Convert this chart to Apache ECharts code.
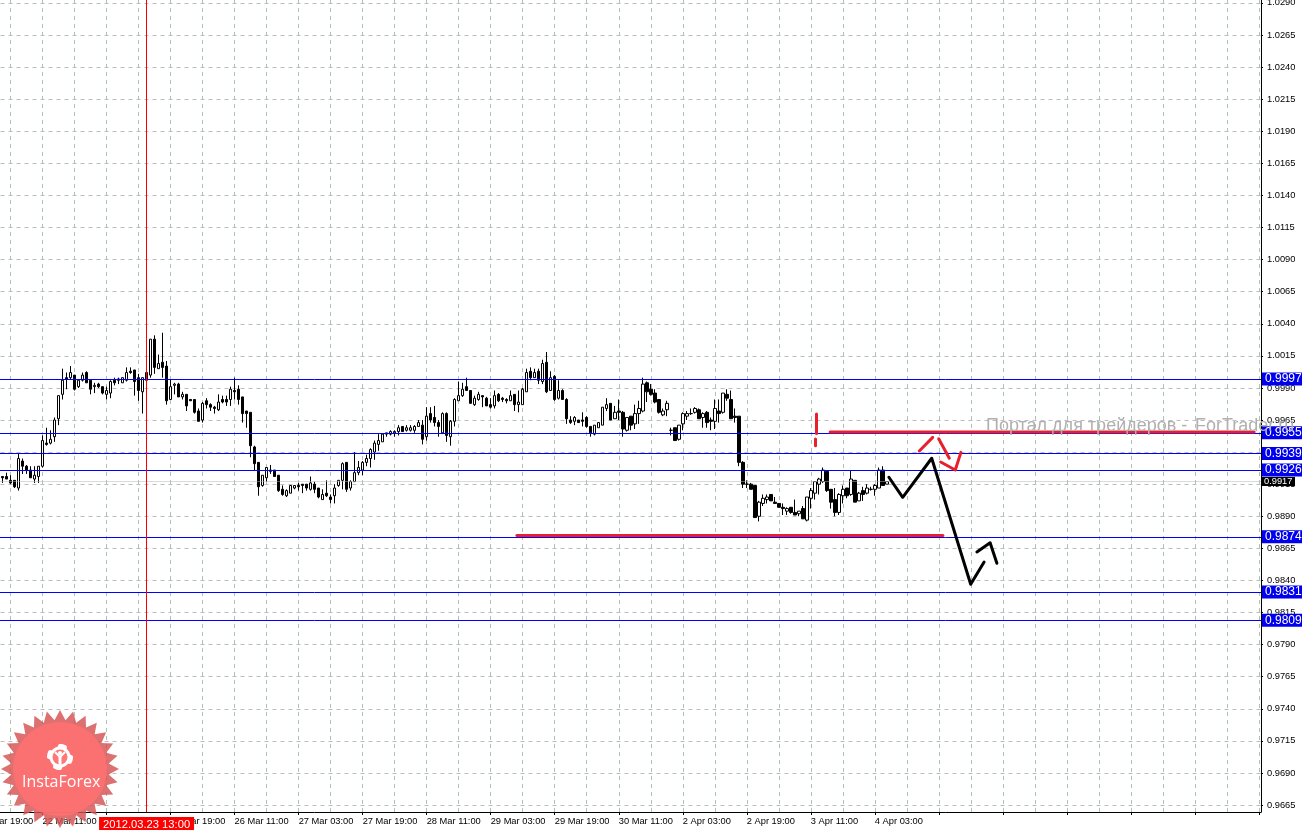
<!DOCTYPE html>
<html><head><meta charset="utf-8">
<style>html,body{margin:0;padding:0;background:#fff}#c{width:1302px;height:830px}</style>
<script src="https://cdn.jsdelivr.net/npm/echarts@6/dist/echarts.min.js"></script>
</head><body><div id="c"></div>
<script>
// Hourly bars, prices x 10000: [open, high, low, close]
const sessionA = [[9921,9921,9916,9920],[9921,9924,9919,9919],[9918,9922,9915,9916],[9918,9918,9912,9913],[9912,9939,9910,9935],[9933,9935,9923,9929],[9929,9930,9923,9926],[9926,9929,9920,9920],[9919,9929,9916,9922],[9921,9929,9916,9929],[9929,9953,9928,9949],[9947,9959,9945,9946],[9947,9957,9946,9950],[9952,9967,9948,9965],[9966,9984,9961,9984],[9985,10005,9981,9996],[9998,10002,9989,9997],[9998,10007,9997,10002],[10000,10000,9988,9989],[9991,9997,9990,9996],[9996,10002,9995,10000],[10002,10003,9994,9994],[9996,9996,9985,9989],[9991,9994,9986,9992],[9993,9994,9990,9991],[9991,9991,9985,9986],[9985,9991,9981,9988],[9986,9996,9982,9995],[9996,9998,9992,9994],[9997,9998,9993,9996],[9994,9998,9994,9998],[9996,10006,9995,10002],[10003,10006,10001,10002],[10004,10004,9984,9995],[9998,10001,9980,9988],[9987,9998,9970,9998],[10002,10002,9996,9996],[10000,10028,9998,10028],[10028,10031,10001,10006],[10005,10016,10005,10009],[10010,10033,9998,10006],[10007,10011,9977,9980],[9981,9997,9981,9991],[9992,9994,9985,9993],[9993,9994,9983,9983],[9983,9987,9981,9985],[9985,9985,9972,9976],[9981,9981,9980,9980],[9981,9981,9970,9971],[9972,9974,9964,9964],[9965,9979,9963,9978],[9980,9982,9974,9977],[9977,9978,9972,9975],[9975,9976,9970,9974],[9973,9985,9972,9979],[9981,9984,9978,9979],[9981,9984,9976,9979],[9981,9991,9976,9989],[9988,9998,9981,9987],[9989,9992,9977,9981],[9983,9983,9963,9970],[9972,9972,9959,9970],[9971,9971,9936,9945],[9944,9945,9926,9931],[9932,9932,9906,9913],[9914,9922,9913,9922],[9920,9928,9917,9928],[9926,9930,9923,9925],[9926,9926,9921,9921],[9922,9922,9909,9910],[9911,9914,9906,9907],[9906,9911,9905,9910],[9908,9914,9908,9914],[9912,9914,9911,9914],[9914,9916,9910,9913],[9915,9915,9908,9914],[9915,9915,9910,9912],[9911,9921,9910,9916],[9915,9917,9908,9911],[9912,9912,9904,9905],[9903,9911,9903,9907],[9908,9918,9905,9906]];
const sessionB = [[9905,9907,9900,9903],[9906,9915,9900,9912],[9914,9918,9913,9918],[9918,9932,9911,9931],[9932,9932,9909,9911],[9912,9918,9910,9917],[9917,9940,9917,9924],[9924,9933,9922,9928],[9926,9933,9922,9932],[9932,9938,9929,9935],[9935,9943,9928,9942],[9940,9949,9934,9947],[9946,9954,9941,9949],[9948,9954,9948,9954],[9954,9955,9952,9955],[9954,9957,9953,9956],[9955,9957,9952,9956],[9956,9961,9953,9959],[9960,9960,9956,9956],[9957,9961,9956,9959],[9957,9961,9956,9959],[9957,9961,9955,9960],[9960,9965,9960,9963],[9961,9965,9946,9950],[9952,9975,9949,9968],[9970,9975,9963,9965],[9967,9976,9960,9963],[9963,9965,9952,9960],[9955,9971,9954,9970],[9970,9971,9948,9953],[9952,9965,9945,9964],[9964,9982,9960,9981],[9980,9995,9980,9984],[9984,9994,9983,9989],[9991,9998,9988,9988],[9988,9988,9978,9978],[9977,9984,9976,9982],[9981,9987,9980,9985],[9984,9984,9975,9983],[9982,9983,9976,9976],[9977,9982,9974,9975],[9976,9988,9974,9984],[9985,9986,9979,9980],[9982,9983,9979,9981],[9981,9982,9978,9980],[9980,9988,9980,9984],[9985,9985,9972,9977],[9977,9988,9971,9979],[9977,9990,9977,9989],[9987,10005,9987,10002],[10003,10006,9996,9998],[9998,10005,9998,10002],[10003,10005,9993,9996],[9995,10012,9993,10009],[10010,10018,9986,9987],[9988,10003,9988,9998],[9999,10000,9980,9981],[9982,9996,9981,9988],[9988,9989,9981,9981],[9981,9982,9962,9966],[9965,9968,9962,9963],[9964,9968,9961,9967],[9965,9965,9963,9963],[9965,9971,9960,9964],[9967,9968,9959,9960],[9960,9960,9952,9955],[9954,9961,9953,9961],[9959,9963,9959,9963],[9961,9975,9961,9975],[9974,9982,9972,9977],[9978,9978,9965,9965],[9966,9976,9966,9971],[9972,9981,9965,9971]];
const sessionC = [[9971,9972,9952,9958],[9957,9967,9956,9967],[9968,9968,9957,9961],[9962,9977,9958,9970],[9970,9980,9962,9974],[9972,9998,9971,9993],[9994,9995,9979,9987],[9989,9993,9984,9985],[9986,9989,9978,9979],[9981,9981,9970,9971],[9969,9974,9968,9972],[9973,9980,9968,9978],[9957,9959,9953,9957],[9959,9959,9949,9949],[9950,9961,9949,9961],[9962,9971,9957,9970],[9968,9972,9965,9970],[9970,9974,9969,9970],[9971,9975,9970,9974],[9973,9974,9966,9966],[9967,9971,9959,9970],[9971,9972,9959,9963],[9965,9967,9957,9964],[9964,9981,9958,9974],[9972,9981,9963,9970],[9971,9986,9970,9986],[9985,9989,9980,9982],[9981,9988,9966,9966],[9968,9974,9963,9967],[9968,9968,9929,9932],[9932,9933,9912,9915],[9915,9918,9912,9915],[9915,9916,9911,9911],[9914,9914,9889,9889],[9890,9902,9886,9901],[9900,9907,9898,9904],[9903,9907,9900,9905],[9907,9907,9902,9902],[9901,9905,9900,9900],[9900,9900,9897,9897],[9897,9900,9891,9896],[9894,9897,9891,9896],[9897,9897,9892,9893],[9893,9903,9891,9891],[9892,9894,9890,9894],[9896,9898,9888,9888],[9887,9905,9886,9905],[9904,9912,9896,9910],[9908,9917,9903,9917],[9915,9920,9907,9919],[9917,9928,9916,9926],[9925,9926,9909,9910],[9911,9911,9896,9901],[9903,9912,9890,9893],[9893,9908,9891,9907],[9906,9914,9900,9911],[9912,9912,9904,9906],[9907,9926,9906,9919],[9918,9918,9901,9901],[9902,9909,9902,9908],[9910,9913,9902,9907],[9908,9915,9907,9912],[9911,9913,9910,9911],[9911,9915,9906,9914],[9912,9928,9912,9926],[9926,9929,9914,9914],[9915,9917,9915,9917]];
const timeLabels = ['21 Mar 19:00','22 Mar 11:00','23 Mar 03:00','23 Mar 19:00','26 Mar 11:00','27 Mar 03:00','27 Mar 19:00','28 Mar 11:00','29 Mar 03:00','29 Mar 19:00','30 Mar 11:00','2 Apr 03:00','2 Apr 19:00','3 Apr 11:00','4 Apr 03:00'];
const priceTicks = [0.9665,0.9690,0.9715,0.9740,0.9765,0.9790,0.9815,0.9840,0.9865,0.9890,0.9915,0.9940,0.9965,0.9990,1.0015,1.0040,1.0065,1.0090,1.0115,1.0140,1.0165,1.0190,1.0215,1.0240,1.0265,1.0290];
const levels = [0.9997,0.9955,0.9939,0.9926,0.9874,0.9831,0.9809];
const bidPrice = 0.9917;
const cursorLabel = '2012.03.23 13:00';
const cursorBar = 36;
const watermarkHead = 'Портал для трейдеров - ';
const watermarkTail = 'ForTrader.ru';
// Hand-drawn annotations: [bar position, price]
const blackStrokes = [
  [[229.6,0.99204],[233.05,0.99048],[240.3,0.99352],[250.05,0.98370],[253.4,0.98544]],
  [[251.6,0.98622],[254.9,0.98694],[256.6,0.98534]]
];
const redStrokes = [
  [[136.6,0.98750],[243.1,0.98750]],
  [[214.9,0.99557],[320.9,0.99557]],
  [[211.5,0.99697],[211.5,0.99545]],
  [[211.25,0.99502],[211.25,0.99450]],
  [[237.2,0.99409],[240.55,0.99515]],
  [[242.05,0.99504],[244.7,0.99352]],
  [[242.55,0.99323],[246.2,0.99261],[247.6,0.99398]]
];

const LEAD = 8, TOTAL = 323, FONT = '"Liberation Sans",sans-serif', AXFS = 9.3;
const bars = sessionA.concat(sessionB, sessionC);
const categories = new Array(TOTAL).fill('');
timeLabels.forEach((t, k) => { categories[2 + 16 * k] = t; });
const candleData = bars.map((b, i) => [i + LEAD, b[0] / 1e4, b[3] / 1e4, b[2] / 1e4, b[1] / 1e4]);

const strokeSeries = (list, color) => list.map(s => ({
  type: 'line', xAxisIndex: 1, yAxisIndex: 0, data: s, symbol: 'none', silent: true, z: 6,
  lineStyle: { color, width: 3, cap: 'round', join: 'round' }
}));

// InstaForex badge geometry
const cx = 60, cy = 769, starPts = [], gearPts = [];
for (let k = 0; k < 56; k++) {
  const a = Math.PI * k / 28, r = k % 2 ? 49 : 59;
  starPts.push([cx + r * Math.sin(a), cy - r * Math.cos(a)]);
}
for (let k = 0; k < 40; k++) {
  const a = Math.PI * 2 * (k - 0.5) / 40, r = (Math.floor(k / 5) % 2) ? 10.5 : 13;
  gearPts.push([cx + r * Math.sin(a), 757 - r * Math.cos(a)]);
}

const chart = echarts.init(document.getElementById('c'), null, { renderer: 'canvas' });
chart.setOption({
  animation: false,
  backgroundColor: '#ffffff',
  grid: { left: -31.5, top: 0, width: 1292.5, height: 812, containLabel: false, outerBoundsMode: 'none' },
  xAxis: [{
    type: 'category', data: categories, boundaryGap: true, position: 'bottom', z: 1,
    axisLine: { show: true, onZero: false, lineStyle: { color: '#000', width: 1 } },
    axisTick: { show: true, alignWithLabel: true, interval: i => (i - 2) % 16 === 0, length: 3, lineStyle: { color: '#000' } },
    axisLabel: { show: true, interval: i => (i - 2) % 16 === 0, align: 'left', margin: 5, color: '#000', fontFamily: FONT, fontSize: AXFS, hideOverlap: false },
    splitLine: { show: true, alignWithLabel: true, interval: i => (i - 2) % 8 === 0, lineStyle: { color: '#a9c6b2', type: [4, 4], width: 1 } }
  }, {
    type: 'value', show: false, position: 'top', min: -0.5, max: 322.625,
    splitLine: { show: false }
  }],
  yAxis: [{
    type: 'value', position: 'right', min: 0.965958, max: 1.029227, scale: true,
    axisLine: { show: true, onZero: false, lineStyle: { color: '#000', width: 1 } },
    axisTick: { show: true, length: 2, customValues: priceTicks, lineStyle: { color: '#000' } },
    axisLabel: { show: true, margin: 6, color: '#000', fontFamily: FONT, fontSize: AXFS, customValues: priceTicks, formatter: v => v.toFixed(4) },
    splitLine: { show: true, lineStyle: { color: '#bdbdbd', type: [4, 4], width: 1 } }
  }],
  series: [{
    type: 'candlestick', xAxisIndex: 0, yAxisIndex: 0, data: candleData, barWidth: 3, silent: true, z: 3,
    encode: { x: 0, y: [1, 2, 3, 4] },
    itemStyle: { color: '#ffffff', color0: '#000000', borderColor: '#000000', borderColor0: '#000000', borderWidth: 1 }
  }, {
    type: 'line', xAxisIndex: 0, yAxisIndex: 0, data: [], symbol: 'none', silent: true, z: 4,
    markLine: {
      silent: true, symbol: 'none', animation: false, precision: 4,
      lineStyle: { color: '#0000ff', width: 1, type: 'solid' },
      label: { show: true, position: 'end', distance: 1, formatter: p => p.value.toFixed(4), color: '#fff', backgroundColor: '#0000ee', fontFamily: FONT, fontSize: 12, padding: [1, 3, 0, 3], width: 34, align: 'left' },
      data: levels.map(v => ({ yAxis: v, lineStyle: { color: '#0000ff', type: 'solid' } })).concat([
        { yAxis: bidPrice, lineStyle: { color: '#b5b5b5', type: [1, 1] },
          label: { backgroundColor: '#000', fontFamily: FONT, fontSize: AXFS, padding: [0, 2, 0, 2], width: 29, formatter: p => p.value.toFixed(4) } },
        { xAxis: cursorBar + LEAD, lineStyle: { color: '#ff0000', type: 'solid', width: 1 },
          label: { position: 'start', distance: 5, formatter: cursorLabel, backgroundColor: '#ff0000', color: '#fff', fontFamily: FONT, fontSize: 11.2, padding: [2, 4, 1, 4], width: 87, align: 'center' } }
      ])
    }
  }].concat(strokeSeries(redStrokes, '#e8202c'), strokeSeries(blackStrokes, '#000000')),
  graphic: [
    { type: 'text', z: 40, x: 986, y: 417, style: { text: watermarkHead, font: '18px "Liberation Sans",sans-serif', fill: '#b0b0b0' } },
    { type: 'text', z: 40, x: 1195, y: 417, style: { text: watermarkTail, font: '18px "Liberation Sans",sans-serif', fill: '#b0b0b0' } },
    { type: 'polygon', z: 30, shape: { points: starPts }, style: { fill: 'rgba(214,80,80,0.82)' } },
    { type: 'circle', z: 31, shape: { cx, cy, r: 47 }, style: { fill: 'rgba(255,112,112,0.88)' } },
    { type: 'polygon', z: 32, shape: { points: gearPts }, style: { fill: '#fff' } },
    { type: 'circle', z: 33, shape: { cx, cy: 757, r: 7.5 }, style: { fill: '#f77' } },
    { type: 'circle', z: 34, shape: { cx, cy: 753, r: 2 }, style: { fill: '#fff' } },
    { type: 'polyline', z: 34, shape: { points: [[55, 752], [60, 757], [65, 752]] }, style: { stroke: '#fff', lineWidth: 2, fill: 'none' } },
    { type: 'line', z: 34, shape: { x1: 60, y1: 757, x2: 60, y2: 767 }, style: { stroke: '#fff', lineWidth: 3 } },
    { type: 'text', z: 35, left: 22, top: 774, style: { text: 'InstaForex', font: '16px "Open Sans",sans-serif', fill: '#fff' } }
  ]
});
</script></body></html>
